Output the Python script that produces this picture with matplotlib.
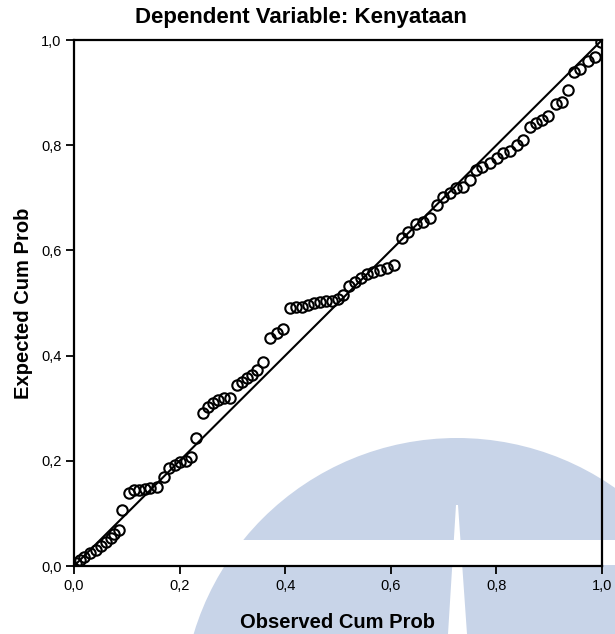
import matplotlib
matplotlib.use("Agg")
import matplotlib.pyplot as plt  # noqa: E402
from matplotlib.patches import Circle, Polygon, Rectangle  # noqa: E402
from matplotlib.transforms import Affine2D  # noqa: E402

plt.rcParams['font.family'] = ['Liberation Sans', 'DejaVu Sans']

# Observed vs expected cumulative probabilities
observed = [0.004, 0.011, 0.019, 0.030, 0.042, 0.051, 0.061, 0.070, 0.076, 0.085,
            0.091, 0.104, 0.114, 0.123, 0.134, 0.144, 0.157, 0.170, 0.180, 0.191,
            0.201, 0.212, 0.222, 0.231, 0.244, 0.254, 0.263, 0.273, 0.284, 0.295,
            0.309, 0.318, 0.328, 0.337, 0.347, 0.358, 0.371, 0.384, 0.396, 0.409,
            0.420, 0.432, 0.443, 0.455, 0.466, 0.477, 0.489, 0.500, 0.509, 0.521,
            0.532, 0.544, 0.555, 0.566, 0.580, 0.593, 0.606, 0.621, 0.633, 0.648,
            0.661, 0.674, 0.688, 0.699, 0.712, 0.723, 0.737, 0.750, 0.761, 0.773,
            0.788, 0.801, 0.813, 0.826, 0.839, 0.850, 0.864, 0.875, 0.886, 0.898,
            0.913, 0.924, 0.936, 0.947, 0.958, 0.973, 0.987, 0.998]
expected = [0.006, 0.011, 0.017, 0.025, 0.030, 0.038, 0.046, 0.053, 0.061, 0.068,
            0.106, 0.139, 0.144, 0.144, 0.146, 0.148, 0.150, 0.169, 0.186, 0.192,
            0.198, 0.200, 0.207, 0.243, 0.291, 0.302, 0.310, 0.316, 0.319, 0.319,
            0.344, 0.350, 0.357, 0.363, 0.373, 0.388, 0.433, 0.443, 0.451, 0.490,
            0.492, 0.492, 0.496, 0.500, 0.502, 0.504, 0.504, 0.508, 0.515, 0.532,
            0.540, 0.548, 0.555, 0.559, 0.563, 0.567, 0.572, 0.624, 0.635, 0.650,
            0.654, 0.662, 0.686, 0.702, 0.709, 0.719, 0.721, 0.734, 0.753, 0.759,
            0.766, 0.776, 0.785, 0.789, 0.800, 0.810, 0.835, 0.842, 0.848, 0.856,
            0.878, 0.882, 0.905, 0.939, 0.945, 0.960, 0.968, 0.996]
ticks = [0.0, 0.2, 0.4, 0.6, 0.8, 1.0]
tick_labels = ["0,0", "0,2", "0,4", "0,6", "0,8", "1,0"]

W, H = 615, 634
fig = plt.figure(figsize=(W / 100, H / 100), dpi=100)

# watermark drawn in image pixel coords (y down)
px = Affine2D().scale(1 / W, -1 / H).translate(0, 1) + fig.transFigure
wm = '#c8d4e8'
fig.patches.append(Circle((457, 713), 275, transform=px, facecolor=wm,
                          edgecolor='none', zorder=-5))
fig.patches.append(Rectangle((0, 540), W, 25, transform=px, facecolor='white',
                             edgecolor='none', zorder=-4))
fig.patches.append(Polygon([(456, 505), (458, 505), (467, 634), (448, 634)],
                           transform=px, facecolor='white', edgecolor='none', zorder=-4))

ax = fig.add_axes([74 / W, (H - 566) / H, 528 / W, 526 / H])
ax.set_facecolor('none')
ax.plot([0, 1], [0, 1], color='black', linewidth=1.5, zorder=2)
ax.plot(observed, expected, linestyle='none', marker='o', markersize=7.5,
        markerfacecolor='none', markeredgecolor='black', markeredgewidth=1.5, zorder=3)

ax.set_xlim(0, 1)
ax.set_ylim(0, 1)
ax.set_xticks(ticks)
ax.set_xticklabels(tick_labels)
ax.set_yticks(ticks)
ax.set_yticklabels(tick_labels)
ax.tick_params(direction='out', length=6, width=1.3, labelsize=10.5, pad=3)
for s in ax.spines.values():
    s.set_linewidth(1.6)

ax.set_xlabel("Observed Cum Prob", fontsize=14.5, fontweight='bold', labelpad=15)
ax.set_ylabel("Expected Cum Prob", fontsize=14.5, fontweight='bold', labelpad=6)
fig.text(301 / W, 1 - 18 / H, "Dependent Variable: Kenyataan", ha='center',
         va='center', fontsize=16, fontweight='bold')

fig.savefig("out.png", dpi=100)
